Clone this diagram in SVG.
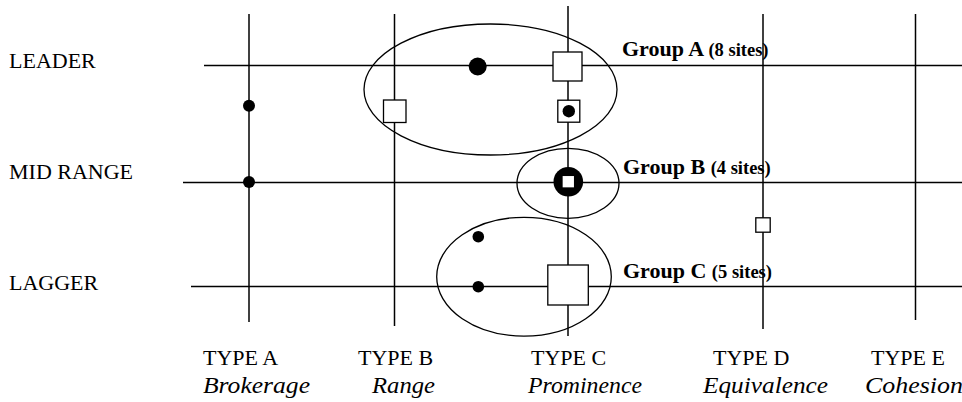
<svg xmlns="http://www.w3.org/2000/svg" width="962" height="402" viewBox="0 0 962 402">
  <style>
    .grid { stroke: #000; stroke-width: 1.5; fill: none; }
    .ring { stroke: #000; stroke-width: 1.3; fill: none; }
    .box { fill: #fff; stroke: #000; stroke-width: 1.3; }
    .dot { fill: #000; }
  </style>
  <rect width="962" height="402" fill="#fff"/>

  <!-- row labels -->
  <g id="row-labels" font-family="Liberation Serif, Tinos, Times New Roman, DejaVu Serif, serif" font-size="22" fill="#000">
    <text x="9" y="68">LEADER</text>
    <text x="9" y="178.5">MID RANGE</text>
    <text x="9" y="290">LAGGER</text>
  </g>

  <!-- column labels -->
  <g id="col-labels" font-family="Liberation Serif, Tinos, Times New Roman, DejaVu Serif, serif" fill="#000">
    <g font-size="22">
      <text x="203" y="365">TYPE A</text>
      <text x="358" y="365">TYPE B</text>
      <text x="531" y="365">TYPE C</text>
      <text x="713" y="365">TYPE D</text>
      <text x="871" y="365">TYPE E</text>
    </g>
    <g font-size="23" font-style="italic">
      <text x="203" y="393" textLength="107" lengthAdjust="spacingAndGlyphs">Brokerage</text>
      <text x="372" y="393" textLength="63" lengthAdjust="spacingAndGlyphs">Range</text>
      <text x="528" y="393" textLength="114" lengthAdjust="spacingAndGlyphs">Prominence</text>
      <text x="703" y="393" textLength="125" lengthAdjust="spacingAndGlyphs">Equivalence</text>
      <text x="865" y="393" textLength="98" lengthAdjust="spacingAndGlyphs">Cohesion</text>
    </g>
  </g>

  <!-- group labels -->
  <g id="group-labels" font-family="Liberation Serif, Tinos, Times New Roman, DejaVu Serif, serif" font-size="22" font-weight="bold" fill="#000">
    <text x="622" y="55.5">Group A <tspan font-size="18.5">(8 sites)</tspan></text>
    <text x="623" y="173.5">Group B <tspan font-size="18.5">(4 sites)</tspan></text>
    <text x="623" y="278">Group C <tspan font-size="18.5">(5 sites)</tspan></text>
  </g>

  <!-- grid: rows and columns -->
  <g id="connectors" class="grid">
    <line x1="204" y1="65.5" x2="962" y2="65.5"/>
    <line x1="183" y1="182.5" x2="962" y2="182.5"/>
    <line x1="191" y1="286.5" x2="962" y2="286.5"/>
    <line x1="249" y1="14" x2="249" y2="322"/>
    <line x1="394.5" y1="14" x2="394.5" y2="326"/>
    <line x1="568" y1="6" x2="568" y2="336"/>
    <line x1="763" y1="14" x2="763" y2="329"/>
    <line x1="915.5" y1="14" x2="915.5" y2="320"/>
  </g>

  <!-- group outlines -->
  <g id="group-a">
    <ellipse class="ring" cx="490.5" cy="89.5" rx="126.5" ry="65.5"/>
  </g>
  <g id="group-b">
    <ellipse class="ring" cx="568" cy="183.3" rx="51" ry="35"/>
  </g>
  <g id="group-c">
    <ellipse class="ring" cx="524" cy="276.7" rx="87.3" ry="59.4"/>
  </g>

  <!-- sites -->
  <g id="site-a-mid">
    <circle class="dot" cx="249" cy="105.7" r="6"/>
  </g>
  <g id="site-a-midrange">
    <circle class="dot" cx="249" cy="182" r="6"/>
  </g>
  <g id="site-leader-big">
    <circle class="dot" cx="477.7" cy="66.5" r="9"/>
  </g>
  <g id="site-c-leader">
    <rect class="box" x="553" y="52" width="29" height="29"/>
  </g>
  <g id="site-b-upper">
    <rect class="box" x="383.5" y="100" width="22.5" height="22.5"/>
  </g>
  <g id="site-c-upper">
    <rect class="box" x="557.8" y="100.2" width="22" height="22"/>
    <circle class="dot" cx="568.8" cy="111.2" r="6.2"/>
  </g>
  <g id="site-c-midrange">
    <circle class="dot" cx="568.3" cy="181.7" r="14.8"/>
    <rect class="box" x="562" y="175.4" width="12.6" height="12.6" stroke-width="1"/>
  </g>
  <g id="site-d-lower">
    <rect class="box" x="755.8" y="217.8" width="14.4" height="14.4"/>
  </g>
  <g id="site-lagger-upper">
    <circle class="dot" cx="478.3" cy="236.7" r="5.8"/>
  </g>
  <g id="site-lagger">
    <circle class="dot" cx="478.3" cy="286.7" r="5.8"/>
  </g>
  <g id="site-c-lagger">
    <rect class="box" x="547.8" y="265" width="40.5" height="40"/>
  </g>
</svg>
